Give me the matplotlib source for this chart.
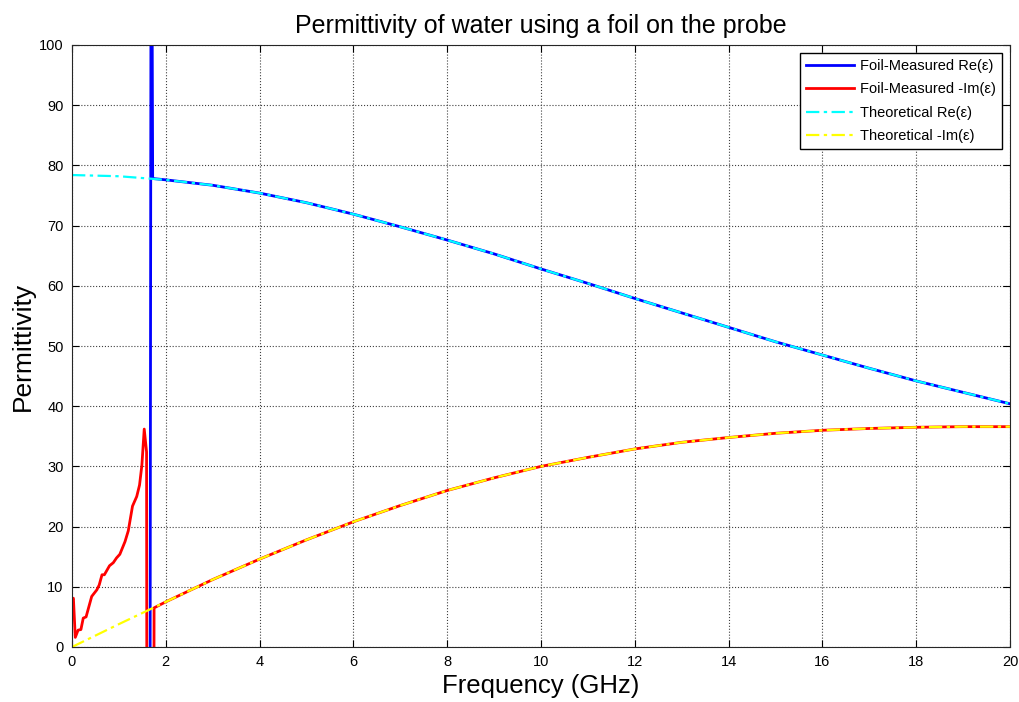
import matplotlib
matplotlib.use("Agg")
import matplotlib.pyplot as plt

plt.rcParams['font.family'] = ['Liberation Sans', 'DejaVu Sans']

# Measured real part (off-chart values before the jump)
meas_re_freq = [0.0, 0.5, 1.0, 1.5, 1.62, 1.66, 1.69, 1.72, 1.75, 2, 3, 4, 5, 6, 7, 8, 9, 10,
                11, 12, 13, 14, 15, 16, 17, 18, 19, 20]
meas_re = [-40, -40, -40, -40, -40, -40, 150, 77.9, 77.8, 77.6, 76.7, 75.4, 73.8, 71.9, 69.8,
           67.6, 65.3, 62.8, 60.4, 57.9, 55.5, 53.1, 50.7, 48.5, 46.3, 44.2, 42.3, 40.4]

# Measured -Im part
meas_im_freq = [0.0, 0.03, 0.07, 0.13, 0.19, 0.24, 0.30, 0.42, 0.53, 0.58, 0.64, 0.69, 0.80,
                0.88, 0.95, 1.02, 1.13, 1.20, 1.29, 1.38, 1.44, 1.49, 1.54, 1.59, 1.60, 1.74,
                1.75, 2, 3, 4, 5, 6, 7, 8, 9, 10, 11, 12, 13, 14, 15, 16, 17, 18, 19, 20]
meas_im = [7.9, 8.1, 1.6, 2.8, 2.9, 4.8, 5.0, 8.4, 9.5, 10.3, 12.0, 12.0, 13.5,
           14.0, 14.8, 15.4, 17.5, 19.3, 23.4, 25.0, 26.9, 30.2, 36.2, 32.4, -40, -40,
           6.5, 7.5, 11.2, 14.6, 17.8, 20.8, 23.5, 26.0, 28.1, 30.0, 31.5, 32.9, 34.0, 34.8,
           35.5, 36.0, 36.3, 36.5, 36.6, 36.6]

# Theoretical curves
theo_freq = [0, 1, 2, 3, 4, 5, 6, 7, 8, 9, 10, 11, 12, 13, 14, 15, 16, 17, 18, 19, 20]
theo_re = [78.4, 78.2, 77.6, 76.7, 75.4, 73.8, 71.9, 69.8, 67.6, 65.3, 62.8, 60.4, 57.9,
           55.5, 53.1, 50.7, 48.5, 46.3, 44.2, 42.3, 40.4]
theo_im = [0.0, 3.8, 7.5, 11.2, 14.6, 17.8, 20.8, 23.5, 26.0, 28.1, 30.0, 31.5, 32.9,
           34.0, 34.8, 35.5, 36.0, 36.3, 36.5, 36.6, 36.6]

xticks = [0, 2, 4, 6, 8, 10, 12, 14, 16, 18, 20]
yticks = [0, 10, 20, 30, 40, 50, 60, 70, 80, 90, 100]

fig = plt.figure(figsize=(10.2, 7.02), dpi=100)
ax = fig.add_axes([72/1020, 55/702, 938/1020, 602/702])

ax.plot(meas_re_freq, meas_re, color=(0, 0, 1), lw=2.0, label='Foil-Measured Re(ε)')
ax.plot(meas_im_freq, meas_im, color=(1, 0, 0), lw=2.0, label='Foil-Measured -Im(ε)')
ax.plot(theo_freq, theo_re, color=(0, 1, 1), lw=1.6, linestyle='-.',
        dashes=(6, 2, 1.5, 2), label='Theoretical Re(ε)')
ax.plot(theo_freq, theo_im, color=(1, 1, 0), lw=1.6, linestyle='-.',
        dashes=(6, 2, 1.5, 2), label='Theoretical -Im(ε)')

ax.set_xlim(0, 20)
ax.set_ylim(0, 100)
ax.set_xticks(xticks)
ax.set_yticks(yticks)
ax.tick_params(direction='in', top=True, right=True, length=5, labelsize=10.5, pad=6)
ax.grid(True, linestyle=':', color='0.25', lw=0.8)
for s in ax.spines.values():
    s.set_color('0.15')

ax.set_title('Permittivity of water using a foil on the probe', fontsize=18, pad=9)
ax.set_xlabel('Frequency (GHz)', fontsize=18.5, labelpad=3)
ax.set_ylabel('Permittivity', fontsize=19, labelpad=3)

leg = ax.legend(loc='upper right', fontsize=10.5, fancybox=False, framealpha=1,
                edgecolor='black', borderaxespad=0.55, handlelength=3.3, labelspacing=0.65,
                handletextpad=0.4)
leg.get_frame().set_linewidth(1.0)

fig.savefig('out.png', dpi=100)
